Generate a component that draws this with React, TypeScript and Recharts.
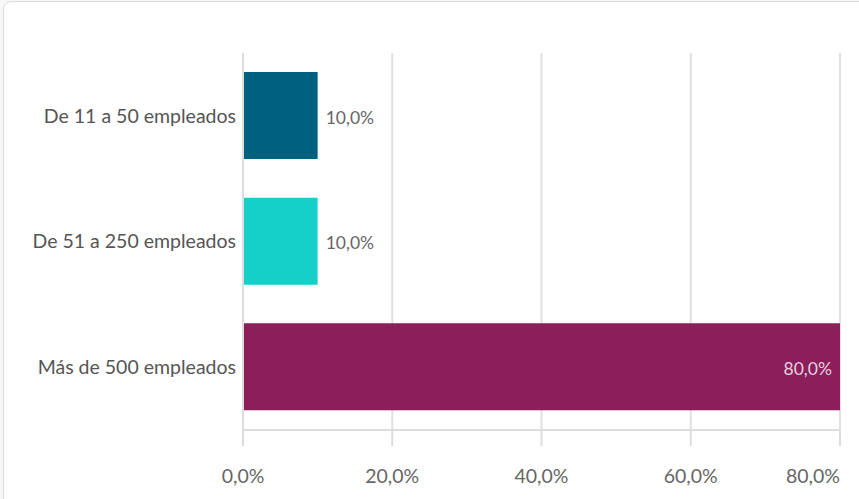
import React from "react";
import {
  BarChart,
  Bar,
  XAxis,
  YAxis,
  CartesianGrid,
  Cell,
  LabelList,
} from "recharts";

const categories = ["De 11 a 50 empleados", "De 51 a 250 empleados", "Más de 500 empleados"];
const values = [10, 10, 80];
const colors = ["#006080", "#14d0c8", "#8a1f5c"];
const xTicks = [0, 20, 40, 60, 80];

const data = categories.map((name, i) => ({ name, value: values[i] }));

const FONT = "Lato, 'Noto Sans', sans-serif";

const fmt = (v: number) => v.toFixed(1).replace(".", ",") + "%";

const ValueLabel = (props: any) => {
  const { x, y, width, height, value } = props;
  const inside = value >= 50;
  const tx = inside ? x + width - 8 : x + width + 8;
  return (
    <text
      x={tx}
      y={y + height / 2 + 2}
      dy="0.35em"
      textAnchor={inside ? "end" : "start"}
      fill={inside ? "#e8d0dc" : "#666"}
      fontSize={17.5}
      fontFamily={FONT}
    >
      {fmt(value)}
    </text>
  );
};

const XTick = (props: any) => {
  const { x, y, payload } = props;
  const last = payload.value === xTicks[xTicks.length - 1];
  return (
    <text
      x={x}
      y={y}
      dy="0.71em"
      textAnchor={last ? "end" : "middle"}
      fill="#666"
      fontSize={19.5}
      fontFamily={FONT}
    >
      {fmt(payload.value)}
    </text>
  );
};

const App = () => {
  return (
    <div
      style={{
        position: "absolute",
        left: 0,
        top: 0,
        width: 859,
        height: 499,
        overflow: "hidden",
        background: "#f7f7f7",
      }}
    >
      <div
        style={{
          position: "absolute",
          left: 3,
          top: 1,
          width: 920,
          height: 600,
          border: "1px solid #ddd",
          borderRadius: 8,
          background: "#fff",
        }}
      />
      <div style={{ position: "absolute", left: 0, top: 0 }}>
        <BarChart
          width={859}
          height={499}
          data={data}
          layout="vertical"
          margin={{ top: 53, right: 19, bottom: 9, left: 0 }}
          barSize={87}
        >
          <CartesianGrid horizontal={false} stroke="#e0e0e0" strokeWidth={2} />
          <XAxis
            type="number"
            domain={[0, 80]}
            ticks={xTicks}
            tickFormatter={fmt}
            height={60}
            stroke="#ddd"
            strokeWidth={2}
            tickSize={16}
            tickMargin={23}
            tick={<XTick />}
            interval={0}
          />
          <YAxis
            type="category"
            dataKey="name"
            width={243}
            stroke="#ddd"
            strokeWidth={2}
            tickLine={false}
            tickSize={0}
            tickMargin={7}
            tick={{ fill: "#555", fontSize: 19.5, fontFamily: FONT }}
          />
          <Bar dataKey="value" isAnimationActive={false}>
            {data.map((d, i) => (
              <Cell key={d.name} fill={colors[i]} />
            ))}
            <LabelList dataKey="value" content={<ValueLabel />} />
          </Bar>
        </BarChart>
      </div>
    </div>
  );
};

export default App;
